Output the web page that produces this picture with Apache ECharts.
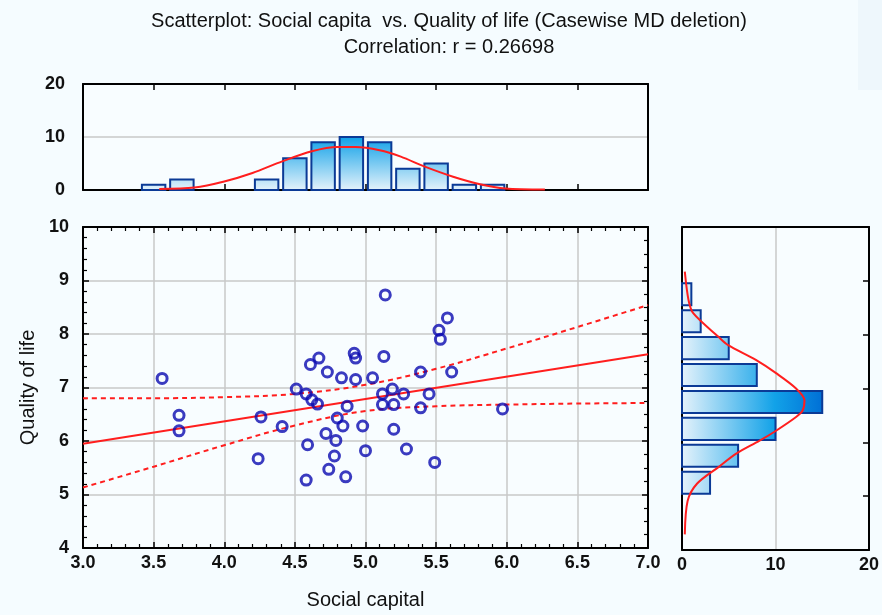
<!DOCTYPE html>
<html>
<head>
<meta charset="utf-8">
<script src="https://cdn.jsdelivr.net/npm/echarts@6/dist/echarts.min.js"></script>
<style>
  html, body { margin: 0; padding: 0; background: #f5fcff; }
  #chart { width: 882px; height: 615px; }
</style>
</head>
<body>
<div id="chart"></div>
<script>
// scatter points
var socialCapital = [3.56, 3.68, 3.68, 4.24, 4.26, 4.41, 4.51, 4.58, 4.62, 4.66, 4.58, 4.59, 4.61, 4.67, 4.72, 4.73,
  4.74, 4.78, 4.79, 4.80, 4.84, 4.83, 4.86, 4.87, 4.92, 4.93, 4.93, 4.98, 5.00, 5.05, 5.12, 5.12,
  5.13, 5.14, 5.19, 5.20, 5.20, 5.27, 5.29, 5.39, 5.39, 5.45, 5.49, 5.52, 5.53, 5.58, 5.61, 5.97];
var qualityOfLife = [7.17, 6.48, 6.19, 5.67, 6.45, 6.27, 6.97, 6.88, 6.77, 6.69, 5.27, 5.93, 7.43, 7.55, 6.14, 7.29,
  5.47, 5.72, 6.01, 6.43, 6.28, 7.18, 5.33, 6.65, 7.64, 7.55, 7.15, 6.28, 5.82, 7.18, 6.88, 6.68,
  7.58, 8.73, 6.97, 6.68, 6.22, 6.88, 5.85, 7.29, 6.62, 6.88, 5.60, 8.07, 7.90, 8.30, 7.29, 6.60];

// fitted line and 95% band
var regX = [3.0, 7.0];
var regY = [5.95, 7.62];
var bandX = [3.0, 3.5, 4.0, 4.5, 5.0, 5.5, 6.0, 6.5, 7.0];
var bandUpper = [6.80, 6.80, 6.82, 6.88, 7.05, 7.35, 7.73, 8.13, 8.54];
var bandLower = [5.13, 5.52, 5.92, 6.29, 6.56, 6.65, 6.68, 6.70, 6.71];

// histogram of social capital (top)
var topBins = [3.5, 3.7, 3.9, 4.1, 4.3, 4.5, 4.7, 4.9, 5.1, 5.3, 5.5, 5.7, 5.9];
var topCounts = [1, 2, 0, 0, 2, 6, 9, 10, 9, 4, 5, 1, 1];
var topCurveX = [3.54, 3.79, 4.0, 4.2, 4.41, 4.62, 4.80, 4.93, 5.10, 5.25, 5.42, 5.62, 5.81, 5.99, 6.27];
var topCurveY = [0.2, 0.45, 1.6, 3.2, 5.4, 7.3, 8.1, 8.1, 7.5, 6.3, 4.4, 2.5, 1.1, 0.3, 0.1];

// histogram of quality of life (right)
var rightBins = [8.75, 8.25, 7.75, 7.25, 6.75, 6.25, 5.75, 5.25];
var rightCounts = [1, 2, 5, 8, 15, 10, 6, 3];
var rightCurveY = [9.17, 8.64, 8.40, 7.96, 7.81, 7.53, 7.28, 7.00, 6.78, 6.59, 6.47, 6.22, 6.03, 5.79, 5.54, 5.23, 4.91, 4.29];
var rightCurveX = [0.3, 0.7, 1.2, 3.9, 4.9, 7.9, 10.1, 12.2, 13.1, 12.9, 12.2, 10.1, 8.3, 5.8, 3.9, 1.6, 0.6, 0.3];

var FONT = 'Liberation Sans, Arial, sans-serif';
var RED = '#ff1e1e';
var GRIDC = '#c9c9c9';
var BARLINE = '#0b3a96';

function zip(a, b) { return a.map(function (v, i) { return [v, b[i]]; }); }

var topData = [], rightData = [];
topBins.forEach(function (c, i) { if (topCounts[i] > 0) topData.push([c, topCounts[i]]); });
rightBins.forEach(function (c, i) { if (rightCounts[i] > 0) rightData.push([rightCounts[i], c]); });

var gradStops = [
  { offset: 0, color: '#e4f2fb' },
  { offset: 0.66, color: '#12a2e8' },
  { offset: 1, color: '#0070d6' }
];

function tickIn() { return { show: true, inside: true, length: 6, lineStyle: { color: '#000', width: 1.5 } }; }
function minor(n) { return { show: true, splitNumber: n, length: 4, lineStyle: { color: '#000', width: 1.2 } }; }
function label(margin, fmt) {
  var l = { show: true, color: '#111', fontSize: 18, fontFamily: FONT, fontWeight: 'bold', margin: margin };
  if (fmt) l.formatter = fmt;
  return l;
}
function split() { return { show: true, lineStyle: { color: GRIDC, width: 1.5 } }; }

function axis(o) {
  var base = {
    type: 'value',
    axisLine: { show: true, onZero: false, lineStyle: { color: '#000', width: 2 } },
    axisTick: { show: false },
    axisLabel: { show: false },
    splitLine: { show: false }
  };
  for (var k in o) base[k] = o[k];
  return base;
}

var myChart = echarts.init(document.getElementById('chart'));

var option = {
  backgroundColor: '#f5fcff',
  animation: false,
  graphic: [
    { type: 'rect', left: 858, top: 0, shape: { width: 24, height: 90 }, style: { fill: '#eef7fc' }, silent: true },
    { type: 'text', x: 449, y: 11, style: { text: 'Scatterplot: Social capita  vs. Quality of life (Casewise MD deletion)',
      textAlign: 'center', font: '20px ' + FONT, fill: '#111' } },
    { type: 'text', x: 449, y: 37, style: { text: 'Correlation: r = 0.26698',
      textAlign: 'center', font: '20px ' + FONT, fill: '#111' } }
  ],
  grid: [
    { left: 83, top: 227, width: 565, height: 323, show: true, borderWidth: 0, backgroundColor: '#f8fdff' },
    { left: 83, top: 84, width: 565, height: 106, show: true, borderWidth: 0, backgroundColor: '#f8fdff' },
    { left: 682, top: 227, width: 187, height: 323, show: true, borderWidth: 0, backgroundColor: '#f8fdff' }
  ],
  xAxis: [
    axis({ gridIndex: 0, min: 3, max: 7, interval: 0.5, axisTick: tickIn(), minorTick: minor(5),
      axisLabel: label(6, function (v) { return v.toFixed(1); }), splitLine: split(),
      name: 'Social capital', nameLocation: 'middle', nameGap: 42,
      nameTextStyle: { color: '#111', fontSize: 20, fontFamily: FONT } }),
    axis({ gridIndex: 0, position: 'top', min: 3, max: 7, interval: 0.5, axisTick: tickIn(), minorTick: minor(5) }),
    axis({ gridIndex: 1, min: 3, max: 7, interval: 0.5, axisTick: tickIn() }),
    axis({ gridIndex: 1, position: 'top', min: 3, max: 7, interval: 0.5, axisTick: tickIn() }),
    axis({ gridIndex: 2, min: 0, max: 20, interval: 10, axisLabel: label(6), splitLine: split() }),
    axis({ gridIndex: 2, position: 'top', min: 0, max: 20, interval: 10 })
  ],
  yAxis: [
    axis({ gridIndex: 0, min: 4, max: 10, interval: 1, axisTick: tickIn(), minorTick: minor(5),
      axisLabel: label(14), splitLine: split(),
      name: 'Quality of life', nameLocation: 'middle', nameGap: 45,
      nameTextStyle: { color: '#111', fontSize: 20, fontFamily: FONT } }),
    axis({ gridIndex: 0, position: 'right', min: 4, max: 10, interval: 1, axisTick: tickIn(), minorTick: minor(4) }),
    axis({ gridIndex: 1, min: 0, max: 20, interval: 10, axisLabel: label(18), splitLine: split() }),
    axis({ gridIndex: 2, min: 4, max: 10, interval: 1 }),
    axis({ gridIndex: 2, position: 'right', min: 4, max: 10, interval: 1, axisTick: tickIn() }),
    axis({ gridIndex: 1, position: 'right', min: 0, max: 20, interval: 10 })
  ],
  series: [
    {
      type: 'line', xAxisIndex: 0, yAxisIndex: 0, data: zip(regX, regY), symbol: 'none',
      lineStyle: { color: RED, width: 2 }, z: 3
    },
    {
      type: 'line', xAxisIndex: 0, yAxisIndex: 0, data: zip(bandX, bandUpper), symbol: 'none', smooth: 0.4,
      lineStyle: { color: RED, width: 2, type: [5, 4] }, z: 3
    },
    {
      type: 'line', xAxisIndex: 0, yAxisIndex: 0, data: zip(bandX, bandLower), symbol: 'none', smooth: 0.4,
      lineStyle: { color: RED, width: 2, type: [5, 4] }, z: 3
    },
    {
      type: 'scatter', xAxisIndex: 0, yAxisIndex: 0, data: zip(socialCapital, qualityOfLife),
      symbol: 'circle', symbolSize: 10,
      itemStyle: { color: 'rgba(0,0,0,0)', borderColor: '#0a0ab0', borderWidth: 3 }, z: 4
    },
    {
      type: 'custom', xAxisIndex: 2, yAxisIndex: 2, data: topData, z: 2,
      renderItem: function (params, api) {
        var c = api.value(0), n = api.value(1);
        var p0 = api.coord([c - 0.083, n]);
        var p1 = api.coord([c + 0.083, 0]);
        var g0 = api.coord([c, 0]), g1 = api.coord([c, 15]);
        return {
          type: 'rect',
          shape: { x: p0[0], y: p0[1], width: p1[0] - p0[0], height: p1[1] - p0[1] },
          style: { fill: new echarts.graphic.LinearGradient(0, g0[1], 0, g1[1], gradStops, true), stroke: BARLINE, lineWidth: 2 }
        };
      }
    },
    {
      type: 'line', xAxisIndex: 2, yAxisIndex: 2, data: zip(topCurveX, topCurveY), symbol: 'none', smooth: 0.3,
      lineStyle: { color: RED, width: 2 }, z: 3
    },
    {
      type: 'custom', xAxisIndex: 4, yAxisIndex: 3, data: rightData, z: 2,
      renderItem: function (params, api) {
        var n = api.value(0), c = api.value(1);
        var p0 = api.coord([0, c + 0.205]);
        var p1 = api.coord([n, c - 0.205]);
        var g0 = api.coord([0, c]), g1 = api.coord([15, c]);
        return {
          type: 'rect',
          shape: { x: p0[0], y: p0[1], width: p1[0] - p0[0], height: p1[1] - p0[1] },
          style: { fill: new echarts.graphic.LinearGradient(g0[0], 0, g1[0], 0, gradStops, true), stroke: BARLINE, lineWidth: 2 }
        };
      }
    },
    {
      type: 'line', xAxisIndex: 4, yAxisIndex: 3, data: zip(rightCurveX, rightCurveY), symbol: 'none', smooth: 0.3,
      lineStyle: { color: RED, width: 2 }, z: 3
    }
  ]
};

myChart.setOption(option);
</script>
</body>
</html>
